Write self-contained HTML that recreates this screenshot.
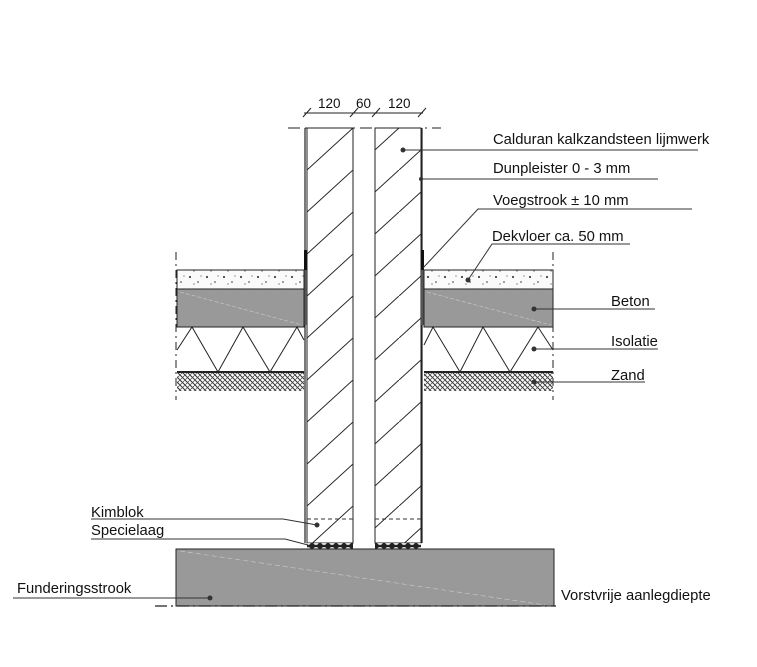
<!DOCTYPE html>
<html><head><meta charset="utf-8"><style>
html,body{margin:0;padding:0;background:#fff}
svg{display:block}
text{font-family:"Liberation Sans",sans-serif;font-size:14.8px;fill:#111}
</style></head><body>
<svg width="757" height="667" viewBox="0 0 757 667" xmlns="http://www.w3.org/2000/svg">
<defs>
<pattern id="hatch" patternUnits="userSpaceOnUse" width="46" height="42" x="307" y="128">
<line x1="0" y1="42" x2="46" y2="0" stroke="#222" stroke-width="1"/>
</pattern>
<pattern id="zand" patternUnits="userSpaceOnUse" width="5" height="5">
<line x1="0" y1="0" x2="5" y2="5" stroke="#333" stroke-width="1"/>
</pattern>
<pattern id="zand2" patternUnits="userSpaceOnUse" width="5" height="5">
<line x1="5" y1="0" x2="0" y2="5" stroke="#444" stroke-width="0.7"/>
</pattern>
<pattern id="dots" patternUnits="userSpaceOnUse" width="17" height="13">
<circle cx="3" cy="4" r="1" fill="#222"/><circle cx="11" cy="9" r="0.8" fill="#333"/><circle cx="14" cy="3" r="0.6" fill="#555"/><circle cx="7" cy="11" r="0.6" fill="#444"/>
</pattern>
<pattern id="gravel" patternUnits="userSpaceOnUse" width="8" height="6">
<rect width="8" height="6" fill="#222"/><ellipse cx="4" cy="3" rx="2.6" ry="2" fill="#ddd"/>
</pattern>
</defs>

<line x1="304" y1="113" x2="423" y2="113" stroke="#222"/>
<line x1="303" y1="117" x2="311" y2="108" stroke="#222"/>
<line x1="350" y1="117" x2="358" y2="108" stroke="#222"/>
<line x1="372" y1="117" x2="380" y2="108" stroke="#222"/>
<line x1="418" y1="117" x2="426" y2="108" stroke="#222"/>
<text x="318" y="108" style="font-size:13.5px">120</text><text x="356" y="108" style="font-size:13.5px">60</text><text x="388" y="108" style="font-size:13.5px">120</text>
<line x1="288" y1="128" x2="441" y2="128" stroke="#222" stroke-dasharray="12,5,2,5"/>

<rect x="307" y="128" width="46" height="415" fill="url(#hatch)" stroke="#222"/>
<rect x="375" y="128" width="46" height="415" fill="url(#hatch)" stroke="#222"/>
<line x1="305" y1="128" x2="305" y2="543" stroke="#222" stroke-width="1.2"/>
<line x1="422" y1="128" x2="422" y2="543" stroke="#222" stroke-width="1.2"/>
<line x1="307" y1="519" x2="353" y2="519" stroke="#333" stroke-dasharray="4,3"/>
<line x1="375" y1="519" x2="421" y2="519" stroke="#333" stroke-dasharray="4,3"/>
<rect x="307" y="543" width="46" height="6" fill="url(#gravel)"/>
<rect x="375" y="543" width="46" height="6" fill="url(#gravel)"/>
<rect x="304" y="250" width="3" height="20" fill="#111"/>
<rect x="421" y="250" width="3" height="20" fill="#111"/>
<rect x="304" y="270" width="3" height="55" fill="#555"/>
<rect x="421" y="270" width="3" height="55" fill="#555"/>

<g stroke="#222">
<rect x="177" y="270" width="127" height="19" fill="#fafafa"/>
<rect x="177" y="270" width="127" height="19" fill="url(#dots)"/>
<rect x="424" y="270" width="129" height="19" fill="#fafafa"/>
<rect x="424" y="270" width="129" height="19" fill="url(#dots)"/>
<rect x="177" y="289" width="127" height="38" fill="#999"/>
<rect x="424" y="289" width="129" height="38" fill="#999"/>
<rect x="177" y="372" width="127" height="19" fill="url(#zand)" stroke="none"/>
<rect x="177" y="372" width="127" height="19" fill="url(#zand2)" stroke="none"/>
<rect x="424" y="372" width="129" height="19" fill="url(#zand)" stroke="none"/>
<rect x="424" y="372" width="129" height="19" fill="url(#zand2)" stroke="none"/>
<line x1="177" y1="372" x2="304" y2="372" stroke-width="2"/>
<line x1="424" y1="372" x2="553" y2="372" stroke-width="2"/>
<polyline fill="none" points="177,350 192,327 218,372 243,327 270,372 297,327 304,340"/>
<polyline fill="none" points="424,345 433,327 460,372 483,327 510,372 538,327 553,350"/>
</g>
<line x1="180" y1="292" x2="302" y2="325" stroke="#ccc" stroke-width="0.6" stroke-dasharray="4,2"/>
<line x1="427" y1="292" x2="551" y2="325" stroke="#ccc" stroke-width="0.6" stroke-dasharray="4,2"/>
<line x1="176" y1="252" x2="176" y2="400" stroke="#222" stroke-dasharray="8,4,2,4"/>
<line x1="553" y1="252" x2="553" y2="400" stroke="#222" stroke-dasharray="8,4,2,4"/>

<rect x="176" y="549" width="378" height="57" fill="#999" stroke="#222"/>
<line x1="180" y1="551" x2="545" y2="605" stroke="#ccc" stroke-width="0.6" stroke-dasharray="5,3"/>
<line x1="155" y1="606" x2="556" y2="606" stroke="#222" stroke-dasharray="12,4,2,4" stroke-width="1.2"/>

<g stroke="#333" fill="none">
<polyline points="403,150 698,150"/>
<polyline points="421,179 658,179"/>
<polyline points="423,268 478,209 692,209"/>
<polyline points="468,280 492,244 630,244"/>
<polyline points="534,309 655,309"/>
<polyline points="534,349 658,349"/>
<polyline points="534,382 645,382"/>
<polyline points="91,519 283,519 317,525"/>
<polyline points="91,539 285,539 308,545"/>
<polyline points="13,598 210,598"/>
</g>
<g fill="#333">
<circle cx="403" cy="150" r="2.5"/><circle cx="421" cy="179" r="2"/>
<circle cx="468" cy="280" r="2.5"/><circle cx="534" cy="309" r="2.5"/>
<circle cx="534" cy="349" r="2.5"/><circle cx="534" cy="382" r="2.5"/>
<circle cx="317" cy="525" r="2.5"/><circle cx="210" cy="598" r="2.5"/>
</g>
<text x="493" y="144">Calduran kalkzandsteen lijmwerk</text>
<text x="493" y="173">Dunpleister 0 - 3 mm</text>
<text x="493" y="205">Voegstrook ± 10 mm</text>
<text x="492" y="241">Dekvloer ca. 50 mm</text>
<text x="611" y="306">Beton</text>
<text x="611" y="346">Isolatie</text>
<text x="611" y="380">Zand</text>
<text x="91" y="517">Kimblok</text>
<text x="91" y="535">Specielaag</text>
<text x="17" y="593">Funderingsstrook</text>
<text x="561" y="600">Vorstvrije aanlegdiepte</text>
</svg>
</body></html>
